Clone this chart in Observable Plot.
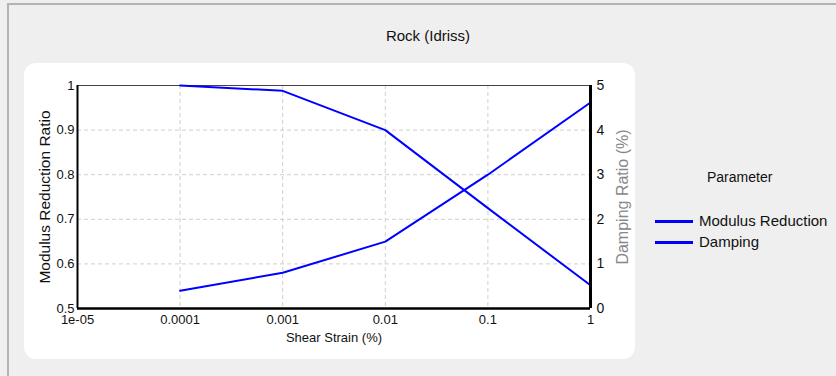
<!DOCTYPE html>
<html>
<head>
<meta charset="utf-8">
<script src="https://cdn.jsdelivr.net/npm/d3@7"></script>
<script src="https://cdn.jsdelivr.net/npm/@observablehq/plot@0.6"></script>
<style>
  html, body { margin: 0; padding: 0; }
  body { width: 836px; height: 376px; background: #efefef; position: relative; overflow: hidden;
         font-family: "Liberation Sans", Arial, sans-serif; }
  #frame { position: absolute; left: 7px; top: 3px; width: 900px; height: 500px;
           border-left: 2px solid #b4b4b4; border-top: 2px solid #b4b4b4; }
  #title { position: absolute; left: 0; width: 856px; top: 27px; text-align: center; font-size: 15px; color: #111; }
  #panel { position: absolute; left: 24px; top: 63px; width: 611px; height: 296px; background: #fff; border-radius: 12px; }
  #chart { position: absolute; left: 24px; top: 63px; }
  #legend { position: absolute; left: 650px; top: 169px; width: 180px; font-size: 15px; color: #111; }
  #legend .ltitle { position: absolute; left: 57px; top: 0; font-size: 14px; }
  #legend .item { position: absolute; left: 5px; height: 20px; }
  #legend .sw { position: absolute; left: 0; top: 8px; width: 38px; height: 3px; background: #0000ff; }
  #legend .lab { position: absolute; left: 44px; top: 0; white-space: nowrap; }
</style>
</head>
<body>
<div id="frame"></div>
<div id="title">Rock (Idriss)</div>
<div id="panel"></div>
<div id="chart"></div>
<div id="legend"></div>
<script>
// Data
const strain = [0.0001, 0.001, 0.01, 0.1, 1];           // Shear strain (%)
const modulusReduction = [1.0, 0.988, 0.9, 0.725, 0.552]; // G/Gmax
const damping = [0.4, 0.8, 1.5, 3.0, 4.62];               // Damping ratio (%)
const seriesNames = ["Modulus Reduction", "Damping"];
const xTicks = [1e-5, 1e-4, 1e-3, 1e-2, 1e-1, 1];
const xTickLabels = ["1e-05", "0.0001", "0.001", "0.01", "0.1", "1"];
const yTicks = [0.5, 0.6, 0.7, 0.8, 0.9, 1];
const yTickLabels = ["0.5", "0.6", "0.7", "0.8", "0.9", "1"];
const yRightTicks = [0, 1, 2, 3, 4, 5];

// damping mapped onto the left scale: 0..5 -> 0.5..1
const toLeft = d => 0.5 + d / 10;
const modData = strain.map((s, i) => ({strain: s, value: modulusReduction[i]}));
const dampData = strain.map((s, i) => ({strain: s, value: toLeft(damping[i])}));

const font = '"Liberation Sans", Arial, sans-serif';

const chart = Plot.plot({
  width: 611,
  height: 296,
  marginLeft: 53,
  marginRight: 45,
  marginTop: 22,
  marginBottom: 51,
  style: {fontFamily: font, fontSize: "13px", color: "#111", background: "transparent", overflow: "visible"},
  x: {type: "log", domain: [1e-5, 1]},
  y: {domain: [0.5, 1]},
  marks: [
    Plot.gridX(xTicks, {stroke: "#cfcfcf", strokeOpacity: 1, strokeDasharray: "4,3"}),
    Plot.gridY(yTicks, {stroke: "#cfcfcf", strokeOpacity: 1, strokeDasharray: "4,3"}),
    Plot.axisX({ticks: xTicks, tickFormat: d => xTickLabels[xTicks.indexOf(d)], tickSize: 0, tickPadding: 6, label: null, fontSize: 13}),
    Plot.axisY({ticks: yTicks, tickFormat: d => yTickLabels[yTicks.indexOf(d)], tickSize: 0, tickPadding: 3, label: null, fontSize: 13}),
    Plot.axisY({anchor: "right", ticks: yRightTicks.map(toLeft), tickFormat: d => String(Math.round((d - 0.5) * 10)), tickSize: 0, tickPadding: 6, label: null, fontSize: 14}),
    Plot.ruleY([1], {stroke: "#444", strokeWidth: 1}),
    Plot.line(modData, {x: "strain", y: "value", stroke: "#0000ff", strokeWidth: 2}),
    Plot.line(dampData, {x: "strain", y: "value", stroke: "#0000ff", strokeWidth: 2}),
    Plot.ruleX([1e-5], {stroke: "#000", strokeWidth: 2}),
    Plot.ruleX([1], {stroke: "#000", strokeWidth: 3}),
    Plot.ruleY([0.5], {stroke: "#000", strokeWidth: 2.5}),
    Plot.text(["Shear Strain (%)"], {frameAnchor: "bottom", dy: 33, fontSize: 13, fill: "#111"}),
    Plot.text(["Modulus Reduction Ratio"], {frameAnchor: "left", textAnchor: "middle", rotate: -90, dx: -32, dy: 0, fontSize: 15.5, fill: "#111"}),
    Plot.text(["Damping Ratio (%)"], {frameAnchor: "right", textAnchor: "middle", rotate: -90, dx: 32, dy: 0, fontSize: 16, fill: "#888", style: "letter-spacing:1.2px"})
  ]
});
document.getElementById("chart").appendChild(chart);

// Legend
const legend = document.getElementById("legend");
const lt = document.createElement("div");
lt.className = "ltitle"; lt.textContent = "Parameter";
legend.appendChild(lt);
seriesNames.forEach((name, i) => {
  const item = document.createElement("div");
  item.className = "item";
  item.style.top = (43 + i * 21) + "px";
  item.innerHTML = '<div class="sw"></div><div class="lab"></div>';
  item.querySelector(".lab").textContent = name;
  legend.appendChild(item);
});
</script>
</body>
</html>
